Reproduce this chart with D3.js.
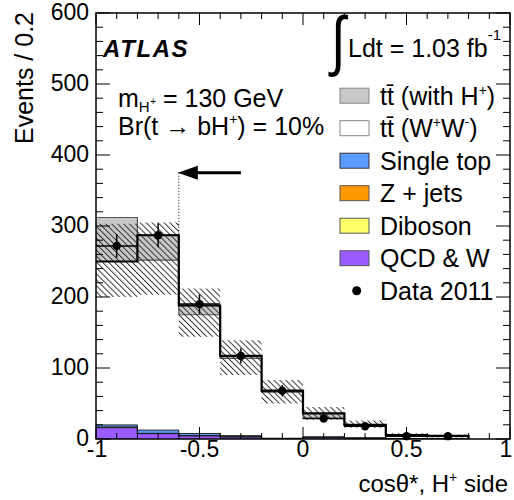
<!DOCTYPE html>
<html><head><meta charset="utf-8">
<script src="https://cdn.jsdelivr.net/npm/d3@7"></script>
<style>
html,body{margin:0;padding:0;background:#fff;}
text{font-family:"Liberation Sans",Arial,Helvetica,sans-serif;fill:#000;}
</style></head>
<body><svg id="c" width="514" height="500"></svg>
<script>
// ---- data ----
const binEdges = [-1,-0.8,-0.6,-0.4,-0.2,0,0.2,0.4,0.6,0.8];
const binCenters = [-0.9,-0.7,-0.5,-0.3,-0.1,0.1,0.3,0.5,0.7];
const qcdW      = [16, 7.5, 4.5, 3, 0.5, 2, 1, 0.5, 0.5];
const diboson   = [0.3, 0.2, 0.1, 0.1, 0, 0.1, 0, 0, 0];
const zJets     = [0.5, 0.3, 0.2, 0.1, 0.1, 0.1, 0.1, 0, 0];
const singleTop = [3, 4.5, 3, 1.5, 0.5, 1, 0.5, 0.3, 0.3];
const smTotal    = [250, 287, 188, 117, 68, 36, 20, 5.6, 4.5];   // tt (W+W-) + backgrounds
const withHTotal = [312, 252, 175, 113.6, 66, 29, 18, 5, 4];     // tt (with H+) + backgrounds
const bandLo = [200, 203, 144, 90, 50, 27, 16, 3, 2];
const bandHi = [303, 305, 212, 139, 83, 45, 26, 8, 6];
const dataCounts = [272, 287, 190, 117, 68, 29, 18, 4, 4];
const yTickLabels = [0,100,200,300,400,500,600];
const xTickLabels = [-1,-0.5,0,0.5,1];
const cutValue = -0.6, arrowLevel = 375, arrowTail = -0.3;
const legendLabels = ["tt\u0304 (with H", "tt\u0304 (W", "Single top", "Z + jets", "Diboson", "QCD & W", "Data 2011"];
const colors = {qcd:"#9b5cff", dib:"#ffff66", z:"#ff9900", st:"#5b9bff", ttH:"#c8c8c8", tt:"#ffffff"};

// ---- scales ----
const x = d3.scaleLinear().domain([-1,1]).range([96,510]);
const y = d3.scaleLinear().domain([0,600]).range([439,13]);
const svg = d3.select("#c");

const defs = svg.append("defs");
const pat = defs.append("pattern").attr("id","hatch").attr("patternUnits","userSpaceOnUse")
  .attr("width",4.2).attr("height",10).attr("patternTransform","rotate(-45)");
pat.append("line").attr("x1",0.5).attr("y1",0).attr("x2",0.5).attr("y2",10).attr("stroke","#222").attr("stroke-width",0.9);
defs.append("clipPath").attr("id","plotclip").append("rect").attr("x",96).attr("y",13).attr("width",414).attr("height",426);

const nb = binCenters.length;
const lowEdges = binEdges.slice(0, nb);
const lastEdge = binEdges[nb];
const ext = arr => arr.map((v,i)=>({e:lowEdges[i], v})).concat([{e:lastEdge, v:arr[nb-1]}]);
const stepLine = d3.line().x(d=>x(d.e)).y(d=>y(d.v)).curve(d3.curveStepAfter);

const g = svg.append("g").attr("clip-path","url(#plotclip)");

// stacked small backgrounds
const rows = lowEdges.map((e,i)=>({e, qcd:qcdW[i], dib:diboson[i], z:zJets[i], st:singleTop[i]}));
rows.push(Object.assign({}, rows[nb-1], {e:lastEdge}));
const keys = ["qcd","dib","z","st"];
const series = d3.stack().keys(keys)(rows);
const area = d3.area().x(d=>x(d.data.e)).y0(d=>y(d[0])).y1(d=>y(d[1])).curve(d3.curveStepAfter);
series.forEach(s=>{
  g.append("path").attr("d",area(s)).attr("fill",colors[s.key]).attr("stroke","none");
});
series.forEach(s=>{
  const l = d3.line().x(d=>x(d.data.e)).y(d=>y(d[1])).curve(d3.curveStepAfter);
  g.append("path").attr("d",l(s)).attr("fill","none").attr("stroke","#222").attr("stroke-width",1);
});

// gray difference region between SM and with-H+ expectation
const diff = lowEdges.map((e,i)=>({e, lo:Math.min(smTotal[i],withHTotal[i]), hi:Math.max(smTotal[i],withHTotal[i])}));
diff.push(Object.assign({}, diff[nb-1], {e:lastEdge}));
g.append("path").attr("d", d3.area().x(d=>x(d.e)).y0(d=>y(d.lo)).y1(d=>y(d.hi)).curve(d3.curveStepAfter)(diff))
  .attr("fill",colors.ttH).attr("stroke","none");
g.append("path").attr("d", stepLine(ext(withHTotal))).attr("fill","none").attr("stroke","#555").attr("stroke-width",1.2);

// uncertainty hatch band
const band = lowEdges.map((e,i)=>({e, lo:bandLo[i], hi:bandHi[i]}));
band.push(Object.assign({}, band[nb-1], {e:lastEdge}));
g.append("path").attr("d", d3.area().x(d=>x(d.e)).y0(d=>y(d.lo)).y1(d=>y(d.hi)).curve(d3.curveStepAfter)(band))
  .attr("fill","url(#hatch)").attr("stroke","none");

// SM total thick line
const smPts = ext(smTotal); smPts.push({e:lastEdge, v:0});
g.append("path").attr("d", stepLine(smPts)).attr("fill","none").attr("stroke","#000").attr("stroke-width",2.2);

// cut line + arrow
svg.append("line").attr("x1",x(cutValue)).attr("x2",x(cutValue)).attr("y1",y(arrowLevel)).attr("y2",y(smTotal[1]))
  .attr("stroke","#000").attr("stroke-width",1).attr("stroke-dasharray","1,2");
svg.append("line").attr("x1",x(cutValue)+15).attr("x2",x(arrowTail)).attr("y1",y(arrowLevel)).attr("y2",y(arrowLevel))
  .attr("stroke","#000").attr("stroke-width",3);
svg.append("path").attr("d",`M${x(cutValue)-1},${y(arrowLevel)} L${x(cutValue)+19},${y(arrowLevel)-7} L${x(cutValue)+19},${y(arrowLevel)+7} Z`).attr("fill","#000");

// data points
const dg = svg.append("g");
dataCounts.forEach((n,i)=>{
  const cx = x(binCenters[i]), cy = y(n), err = Math.sqrt(n);
  dg.append("line").attr("x1",x(binEdges[i])).attr("x2",x(binEdges[i+1])).attr("y1",cy).attr("y2",cy).attr("stroke","#000").attr("stroke-width",1.5);
  dg.append("line").attr("x1",cx).attr("x2",cx).attr("y1",y(n+err)).attr("y2",y(Math.max(0,n-err))).attr("stroke","#000").attr("stroke-width",1.5);
  dg.append("circle").attr("cx",cx).attr("cy",cy).attr("r",4.2).attr("fill","#000");
});

// frame & ticks
svg.append("rect").attr("x",96).attr("y",13).attr("width",414).attr("height",426).attr("fill","none").attr("stroke","#000").attr("stroke-width",1.5);
const ax = svg.append("g").attr("stroke","#000").attr("stroke-width",1);
d3.range(0,601,20).forEach(v=>{
  const L = v%100===0 ? 14 : 7;
  ax.append("line").attr("x1",96).attr("x2",96+L).attr("y1",y(v)).attr("y2",y(v));
  ax.append("line").attr("x1",510).attr("x2",510-L).attr("y1",y(v)).attr("y2",y(v));
});
d3.range(-10,11,1).map(k=>k/10).forEach(v=>{
  const L = Math.abs((v*10)%5)<1e-9 ? 12 : 6;
  ax.append("line").attr("x1",x(v)).attr("x2",x(v)).attr("y1",439).attr("y2",439-L);
  ax.append("line").attr("x1",x(v)).attr("x2",x(v)).attr("y1",13).attr("y2",13+L);
});
yTickLabels.forEach(v=>{
  svg.append("text").attr("x",89).attr("y",y(v)+7).attr("text-anchor","end").attr("font-size",23).text(v);
});
xTickLabels.forEach(v=>{
  const xx = v===1 ? x(v)-4 : (v===-1 ? x(v)+1 : x(v));
  svg.append("text").attr("x",xx).attr("y",457).attr("text-anchor","middle").attr("font-size",23).text(String(v));
});

// axis titles
svg.append("text").attr("transform","translate(33,12) rotate(-90)").attr("text-anchor","end").attr("font-size",25).text("Events / 0.2");
const xt = svg.append("text").attr("x",508).attr("y",492).attr("text-anchor","end").attr("font-size",24);
xt.append("tspan").text("cosθ*, H");
xt.append("tspan").attr("font-size",14).attr("dy",-10).text("+");
xt.append("tspan").attr("dy",10).text(" side");

// annotations
svg.append("text").attr("x",103).attr("y",57).attr("font-size",24).attr("font-weight","bold").attr("font-style","italic").attr("letter-spacing",1.6).text("ATLAS");
svg.append("text").attr("transform","translate(331,63) scale(0.8,1)").attr("font-size",66)
  .attr("font-family","DejaVu Sans").attr("font-weight",200).text("∫");
const lt = svg.append("text").attr("x",348).attr("y",57).attr("font-size",25);
lt.append("tspan").text("Ldt = 1.03 fb");
lt.append("tspan").attr("font-size",15).attr("dy",-17).text("-1");

const mt = svg.append("text").attr("x",118).attr("y",107).attr("font-size",25);
mt.append("tspan").text("m");
mt.append("tspan").attr("font-size",15).attr("y",112).text("H");
mt.append("tspan").attr("font-size",10).attr("y",105).attr("dx",0.5).text("+");
mt.append("tspan").attr("y",107).text(" = 130 GeV");
const bt = svg.append("text").attr("x",118).attr("y",135).attr("font-size",25);
bt.append("tspan").text("Br(t → bH");
bt.append("tspan").attr("font-size",14).attr("y",124).text("+");
bt.append("tspan").attr("y",135).text(") = 10%");

// legend
const legY0 = 95.7, legDy = 32.5;
const legFill = [colors.ttH, colors.tt, colors.st, colors.z, colors.dib, colors.qcd];
const legStroke = ["#888","#888","#333","#555","#555","#555"];
legendLabels.forEach((lab,i)=>{
  const cy = legY0 + i*legDy;
  if (i < 6) {
    svg.append("rect").attr("x",340).attr("y",cy-7.5).attr("width",29).attr("height",15)
      .attr("fill",legFill[i]).attr("stroke",legStroke[i]).attr("stroke-width",1);
  } else {
    svg.append("circle").attr("cx",356.7).attr("cy",cy).attr("r",4.5).attr("fill","#000");
  }
  const t = svg.append("text").attr("x",380).attr("y",cy+9).attr("font-size",25);
  t.append("tspan").text(lab);
  if (i===0) { t.append("tspan").attr("font-size",14).attr("dy",-10).text("+"); t.append("tspan").attr("dy",10).text(")"); }
  if (i===1) { t.append("tspan").attr("font-size",14).attr("dy",-10).text("+");
               t.append("tspan").attr("dy",10).text("W");
               t.append("tspan").attr("font-size",14).attr("dy",-10).text("-");
               t.append("tspan").attr("dy",10).text(")"); }
});
</script></body></html>
